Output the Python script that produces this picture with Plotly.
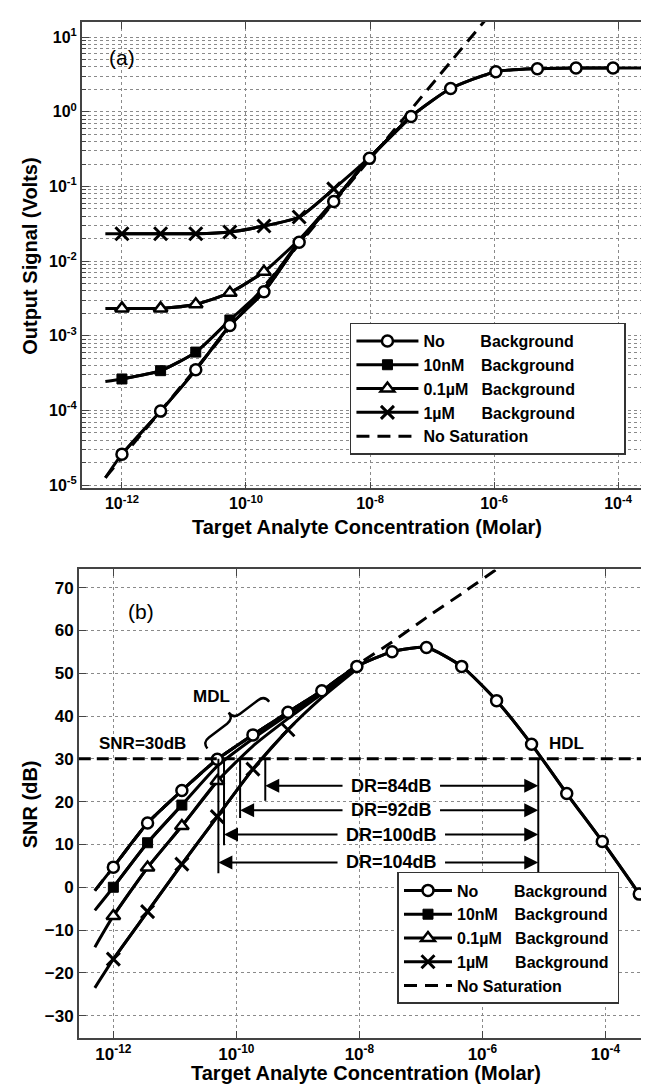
import numpy as np
import plotly.graph_objects as go

# ---------------- panel (a): output signal ----------------
conc_a = [1.0e-12, 4.2e-12, 1.55e-11, 5.5e-11, 1.95e-10, 7.2e-10, 2.6e-9, 9.8e-9,
          4.6e-8, 2.0e-7, 1.07e-6, 5.0e-6, 2.1e-5, 8.3e-5]
volt_none = [2.6e-5, 9.8e-5, 3.5e-4, 1.37e-3, 3.9e-3, 1.79e-2, 6.3e-2, 0.238,
             0.865, 2.05, 3.45, 3.78, 3.86, 3.86]
volt_10nM = [2.64e-4, 3.41e-4, 6.05e-4, 1.63e-3, 4.3e-3, 1.85e-2, 6.4e-2, 0.24, 0.87]
volt_01uM = [2.33e-3, 2.33e-3, 2.64e-3, 3.78e-3, 7.2e-3, 1.95e-2, 6.4e-2, 0.24, 0.87]
volt_1uM = [2.33e-2, 2.33e-2, 2.33e-2, 2.46e-2, 2.96e-2, 3.9e-2, 9.3e-2, 0.245, 0.87]
# curve ends (lines extend beyond the first / last marker)
conc_a_ends = [5.4e-13, 1.0e-3]
volt_start = [1.25e-5, 2.45e-4, 2.33e-3, 2.33e-2]   # none, 10nM, 0.1uM, 1uM
volt_none_end = 3.88
marks_a = [14, 4, 5, 7]                              # visible markers per series
nosat_conc_a = [5.4e-13, 1.0e-12, 1.0e-8, 1.0e-6]
nosat_volt_a = [1.26e-5, 2.34e-5, 0.234, 23.4]
xt_a = [1e-12, 1e-10, 1e-8, 1e-6, 1e-4]
xt_a_text = ["10<sup>-12</sup>", "10<sup>-10</sup>", "10<sup>-8</sup>", "10<sup>-6</sup>", "10<sup>-4</sup>"]
yt_a = [1e-5, 1e-4, 1e-3, 1e-2, 1e-1, 1e0, 1e1]
yt_a_text = ["10<sup>-5</sup>", "10<sup>-4</sup>", "10<sup>-3</sup>", "10<sup>-2</sup>",
             "10<sup>-1</sup>", "10<sup>0</sup>", "10<sup>1</sup>"]

# ---------------- panel (b): SNR ----------------
conc_b = [1.0e-12, 3.6e-12, 1.3e-11, 4.9e-11, 1.86e-10, 6.9e-10, 2.45e-9, 9.1e-9,
          3.4e-8, 1.23e-7, 4.6e-7, 1.7e-6, 6.3e-6, 2.35e-5, 8.9e-5, 3.55e-4]
snr_none = [4.7, 15.0, 22.6, 29.9, 35.6, 40.9, 45.9, 51.6, 55.0, 56.0, 51.6, 43.6,
            33.4, 21.9, 10.7, -1.6]
snr_10nM = [0.0, 10.4, 19.2, 28.3, 34.7, 40.3, 45.6, 51.4]
snr_01uM = [-6.7, 4.6, 14.3, 24.8, 33.0, 39.4, 45.2, 51.3]
snr_1uM = [-16.8, -5.7, 5.4, 16.5, 27.6, 36.8, 44.3, 51.0]
conc_b_ends = [5.0e-13, 7.2e-4]
snr_start = [-0.8, -5.4, -14.0, -23.5]
snr_none_end = -8.5
marks_b = [16, 3, 4, 6]
nosat_conc_b = [5.0e-13, 1.0e-12, 3.6e-12, 1.3e-11, 4.9e-11, 1.86e-10, 6.9e-10, 2.45e-9,
                9.1e-9, 3.4e-8, 1.23e-7, 4.6e-7, 1.7e-6]
nosat_snr_b = [-0.8, 4.7, 15.0, 22.6, 29.9, 35.6, 40.9, 45.9, 51.9, 57.3, 63.0, 68.6, 74.3]
snr_threshold = 30
mdl_conc = [5.1e-11, 6.3e-11, 1.15e-10, 2.95e-10]
mdl_bottom = [3.3, 9.8, 16.2, 20.2]
hdl_conc = 8.1e-6
hdl_bottom = 3.3
dr_labels = ["DR=104dB", "DR=100dB", "DR=92dB", "DR=84dB"]
dr_snr = [5.8, 12.3, 18.0, 23.7]
dr_label_conc = 3.3e-8
xt_b = xt_a
xt_b_text = xt_a_text
yt_b = [-30, -20, -10, 0, 10, 20, 30, 40, 50, 60, 70]

NB = "\u00a0"
names = ["No" + NB * 8 + "Background",
         "10nM" + NB * 3 + "\u2009" + "Background",
         "0.1µM" + NB * 3 + "Background",
         "1µM" + NB * 6 + "Background"]
nosat_name = "No Saturation"

W, H = 649, 1084
FONT = "Liberation Sans, Arial, sans-serif"
LW = 3

markers = [
    dict(symbol="circle", size=11, color="white", line=dict(color="black", width=2.5)),
    dict(symbol="square", size=10, color="black", line=dict(color="black", width=1)),
    dict(symbol="triangle-up", size=12, color="white", line=dict(color="black", width=2.5)),
    dict(symbol="x-thin", size=13, color="black", line=dict(color="black", width=3)),
]

fig = go.Figure()


def build_panel(xa, ya, conc, series, ends, starts, none_end, marks, nos_x, nos_y, legend, pad):
    fig.add_trace(go.Scatter(x=nos_x, y=nos_y, mode="lines", name=nosat_name + pad,
                             line=dict(color="black", width=LW, dash="13px,8px", shape="spline", smoothing=0.5),
                             xaxis=xa, yaxis=ya, legend=legend, legendrank=5, hoverinfo="skip"))
    for i, vals in enumerate(series):
        cx = [ends[0]] + conc[:len(vals)]
        cy = [starts[i]] + list(vals)
        if i == 0:
            cx = cx + [ends[1]]
            cy = cy + [none_end]
        fig.add_trace(go.Scatter(x=cx, y=cy, mode="lines", showlegend=False,
                                 line=dict(color="black", width=LW, shape="spline", smoothing=0.6),
                                 xaxis=xa, yaxis=ya, hoverinfo="skip"))
    for i in [3, 2, 1, 0]:
        n = marks[i]
        fig.add_trace(go.Scatter(x=conc[:n], y=series[i][:n], mode="lines+markers", name=names[i] + pad,
                                 line=dict(color="black", width=LW, shape="spline", smoothing=0.6),
                                 marker=markers[i], xaxis=xa, yaxis=ya, legend=legend,
                                 legendrank=i + 1, hoverinfo="skip"))


build_panel("x", "y", conc_a, [volt_none, volt_10nM, volt_01uM, volt_1uM], conc_a_ends,
            volt_start, volt_none_end, marks_a, nosat_conc_a, nosat_volt_a, "legend", NB * 10)
build_panel("x2", "y2", conc_b, [snr_none, snr_10nM, snr_01uM, snr_1uM], conc_b_ends,
            snr_start, snr_none_end, marks_b, nosat_conc_b, nosat_snr_b, "legend2", NB)

# MDL / HDL vertical markers in panel (b)
vx, vy = [], []
for c, b in zip(mdl_conc + [hdl_conc], mdl_bottom + [hdl_bottom]):
    vx += [c, c, None]
    vy += [snr_threshold, b, None]
fig.add_trace(go.Scatter(x=vx, y=vy, mode="lines", line=dict(color="black", width=2),
                         xaxis="x2", yaxis="y2", showlegend=False, hoverinfo="skip"))

# threshold line
fig.add_shape(type="line", xref="x2 domain", x0=0, x1=1, yref="y2", y0=snr_threshold, y1=snr_threshold,
              line=dict(color="black", width=3, dash="12px,6px"))

# DR labels with double arrows (gap around the text)
DR_SIZE = 18
char_w = {"D": .722, "R": .722, "=": .584, "d": .611, "B": .722}
for lab, m, yv in zip(dr_labels, mdl_conc, dr_snr):
    half = sum(char_w.get(ch, .556) for ch in lab) * DR_SIZE / 2 + 7
    fig.add_annotation(x=np.log10(dr_label_conc), y=yv, xref="x2", yref="y2", text=lab,
                       showarrow=False, xanchor="center", yanchor="middle",
                       font=dict(family=FONT, size=DR_SIZE, color="black", weight="bold"))
    for target in [m, hdl_conc]:
        fig.add_annotation(x=np.log10(target), y=yv, xref="x2", yref="y2",
                           ax=np.log10(dr_label_conc), ay=yv, axref="x2", ayref="y2",
                           text="", showarrow=True, arrowhead=2, arrowsize=1.4, arrowwidth=2,
                           arrowcolor="black", startstandoff=half)


def P(px, py):
    return px / W, 1 - py / H


def txt(px, py, s, size, bold=True, angle=0):
    x, y = P(px, py)
    fig.add_annotation(x=x, y=y, xref="paper", yref="paper", text=s, showarrow=False,
                       textangle=angle, xanchor="center", yanchor="middle",
                       font=dict(family=FONT, size=size, color="black",
                                 weight="bold" if bold else "normal"))


txt(114, 50, "(a)", 21, bold=False)
txt(133.5, 606, "(b)", 21, bold=False)
txt(204, 691.7, "MDL", 17)
txt(134.6, 738.5, "SNR=30dB", 17)
txt(560.5, 739, "HDL", 17)
txt(22, 249, "Output Signal (Volts)", 20, angle=-90)
txt(360, 521, "Target Analyte Concentration (Molar)", 20)
txt(22, 800, "SNR (dB)", 20, angle=-90)
txt(359, 1070, "Target Analyte Concentration (Molar)", 20)

# MDL curly brace (rotated)
A = np.array([200.0, 744.0])
B = np.array([262.0, 697.0])
L = np.linalg.norm(B - A)
d = (B - A) / L
nrm = np.array([-d[1], d[0]])
if nrm[1] > 0:
    nrm = -nrm
h, w = 16.0, 8.0


def bp(u, v):
    p = A + u * d + v * nrm
    x, y = P(p[0], p[1])
    return f"{x:.5f},{y:.5f}"


path = (f"M{bp(0, 0)} Q{bp(0, h / 2)} {bp(w, h / 2)} L{bp(L / 2 - w, h / 2)} "
        f"Q{bp(L / 2, h / 2)} {bp(L / 2, h)} Q{bp(L / 2, h / 2)} {bp(L / 2 + w, h / 2)} "
        f"L{bp(L - w, h / 2)} Q{bp(L, h / 2)} {bp(L, 0)}")
fig.add_shape(type="path", path=path, xref="paper", yref="paper",
              line=dict(color="black", width=2.5))

grid = dict(showgrid=True, gridcolor="#8a8a8a", griddash="dot", gridwidth=1)
axline = dict(showline=True, linecolor="#444", linewidth=1.5, mirror="allticks",
              ticks="inside", ticklen=7, tickcolor="#444", tickwidth=1.2)
legend_style = dict(xanchor="left", yanchor="top", bgcolor="white", bordercolor="#333",
                    borderwidth=1.5, tracegroupgap=0,
                    font=dict(family=FONT, size=16, color="black", weight="bold"))

fig.update_layout(
    width=W, height=H, margin=dict(l=0, r=0, t=0, b=0),
    paper_bgcolor="white", plot_bgcolor="white", showlegend=True,
    xaxis=dict(type="log", domain=[74 / W, 1], range=[-12.648, -3.404], anchor="y",
               tickvals=xt_a, ticktext=xt_a_text,
               tickfont=dict(family=FONT, size=16, color="black", weight="bold"), **grid, **axline),
    yaxis=dict(type="log", domain=[1 - 482.7 / H, 1 - 14 / H], range=[-5.045, 1.204], anchor="x",
               tickvals=yt_a, ticktext=yt_a_text,
               tickfont=dict(family=FONT, size=16, color="black", weight="bold"),
               minor=dict(dtick="D1", ticks="inside", ticklen=4, tickcolor="#444",
                          showgrid=True, gridcolor="#8a8a8a", griddash="dot", gridwidth=1),
               **grid, **axline),
    xaxis2=dict(type="log", domain=[71 / W, 1], range=[-12.562, -3.194], anchor="y2",
                tickvals=xt_b, ticktext=xt_b_text,
                tickfont=dict(family=FONT, size=17, color="black", weight="bold"), **grid, **axline),
    yaxis2=dict(domain=[1 - 1034.7 / H, 1 - 564 / H], range=[-35.2, 74.26], anchor="x2",
                tickvals=yt_b, zeroline=False,
                tickfont=dict(family=FONT, size=17, color="black", weight="bold"), **grid, **axline),
    legend=dict(x=343 / W, y=1 - 316 / H, itemwidth=62, **legend_style),
    legend2=dict(x=390.7 / W, y=1 - 868 / H, itemwidth=48, **legend_style),
)

fig.write_html("out.html")
